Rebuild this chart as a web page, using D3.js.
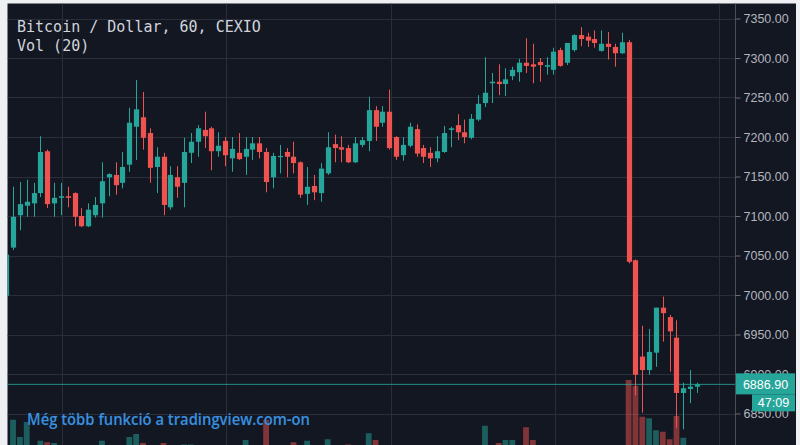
<!DOCTYPE html>
<html>
<head>
<meta charset="utf-8">
<script src="https://cdn.jsdelivr.net/npm/d3@7/dist/d3.min.js"></script>
<style>
  html, body { margin: 0; padding: 0; background: #eef0f4; }
  svg { display: block; }
</style>
</head>
<body>
<svg id="chart" width="800" height="445"></svg>
<script>
// ---- data (hourly candles, BTC/USD CEXIO) ----
const opens  = [6999,7060,7101,7113,7116,7129,7182,7116,7123,7125,7129,7100,7087,7101,7116,7149,7152,7142,7165,7213,
                7225,7205,7162,7175,7111,7149,7142,7180,7194,7209,7211,7182,7195,7173,7180,7175,7184,7192,7181,7149,
                7175,7181,7175,7168,7128,7138,7129,7154,7191,7187,7186,7168,7190,7195,7234,7218,7232,7200,7177,7189,
                7210,7186,7180,7173,7181,7209,7215,7206,7199,7222,7243,7268,7270,7267,7277,7282,7294,7292,7295,7289,
                7285,7310,7294,7310,7329,7327,7324,7309,7318,7314,7306,7320,7044,6922,6905,6927,6984,6972,6946,6876,
                6881,6884];
const highs  = [7055,7137,7143,7146,7142,7201,7184,7142,7142,7137,7130,7110,7116,7124,7168,7154,7168,7181,7237,7272,
                7257,7211,7187,7180,7163,7163,7199,7205,7215,7232,7213,7206,7200,7200,7205,7200,7200,7200,7186,7180,
                7190,7186,7194,7169,7162,7152,7167,7206,7203,7201,7190,7200,7200,7251,7239,7239,7260,7201,7200,7218,
                7216,7190,7187,7201,7214,7213,7229,7222,7229,7253,7301,7281,7292,7287,7289,7299,7325,7318,7300,7301,
                7313,7313,7319,7330,7339,7332,7335,7335,7333,7318,7332,7323,7045,6961,6957,6984,6998,6975,6968,6889,
                6905,6889];
const lows   = [6995,7057,7082,7099,7099,7124,7110,7099,7101,7111,7087,7086,7086,7098,7098,7125,7127,7135,7156,7171,
                7184,7142,7129,7101,7108,7123,7111,7167,7175,7186,7158,7175,7163,7156,7171,7152,7171,7173,7130,7135,
                7154,7149,7154,7123,7114,7120,7118,7152,7168,7168,7167,7167,7187,7182,7195,7213,7184,7171,7170,7187,
                7175,7167,7162,7168,7180,7187,7196,7192,7197,7220,7238,7243,7253,7252,7272,7270,7281,7268,7270,7279,
                7279,7289,7291,7308,7315,7314,7313,7308,7298,7289,7305,7040,6873,6851,6899,6909,6941,6903,6832,6830,
                6863,6876];
const closes = [7051,7099,7115,7118,7129,7181,7115,7123,7125,7123,7099,7087,7108,7114,7144,7153,7139,7162,7218,7235,
                7199,7161,7175,7114,7152,7137,7181,7194,7211,7201,7182,7189,7177,7185,7172,7185,7192,7181,7143,7176,
                7176,7175,7167,7127,7137,7130,7160,7187,7186,7184,7168,7192,7196,7234,7213,7232,7186,7175,7190,7213,
                7179,7175,7173,7182,7205,7211,7206,7200,7223,7242,7256,7270,7267,7273,7285,7294,7290,7289,7291,7291,
                7308,7290,7319,7329,7324,7322,7319,7318,7314,7306,7320,7042,6899,6905,6928,6984,6977,6954,6876,6882,
                6884,6886.9];
const volumes = [10,47,24,44,10,19,17,16,9,8,12,8,9,8,19,7,10,12,24,28,
                 16,12,10,16,12,9,14,14,12,10,12,8,9,8,7,20,8,7,47,12,
                 8,9,17,13,19,9,12,21,9,8,14,10,7,29,20,10,13,11,8,10,
                 12,8,7,9,12,7,10,8,11,12,39,13,16,20,20,12,37,20,12,9,
                 13,10,12,13,10,8,9,10,9,8,12,100,92,51,49,33,31,21,52,23,
                 12,10];
const priceTicks = [6850,6900,6950,7000,7050,7100,7150,7200,7250,7300,7350];
const dayBoundaries = [8.2, 32.2, 56.2, 80.2, 104.2];   // candle-index positions of session separators
const lastPrice = 6886.90;
const countdown = "47:09";
const titleText = "Bitcoin / Dollar, 60, CEXIO";
const volText = "Vol (20)";
const promoText = "Még több funkció a tradingview.com-on";

// ---- layout ----
const W = 800, H = 445;
const plot = { left: 7.5, top: 3.5, right: 735, bottom: 445 };
const UP = "#26a69a", DOWN = "#ef5350";

const candles = opens.map((o, i) => ({ i, o, h: highs[i], l: lows[i], c: closes[i], v: volumes[i] }));

const svg = d3.select("#chart");

const x = d3.scaleLinear().domain([0, candles.length - 1]).range([6.2, 697]);
const y = d3.scaleLinear().domain([6850, 7350]).range([413.5, 18.5]);
const yv = d3.scaleLinear().domain([0, 100]).range([455, 380]);

// frame background
svg.append("rect").attr("x", 0).attr("y", 0).attr("width", W).attr("height", H).attr("fill", "#eef0f4");
svg.append("rect").attr("x", plot.left).attr("y", plot.top).attr("width", 796 - plot.left).attr("height", H - plot.top)
   .attr("fill", "#131722");

const clip = svg.append("defs").append("clipPath").attr("id", "pclip");
clip.append("rect").attr("x", plot.left).attr("y", plot.top).attr("width", plot.right - plot.left).attr("height", H - plot.top);

const g = svg.append("g").attr("clip-path", "url(#pclip)");

// grid
g.selectAll("line.hg").data(priceTicks).join("line")
  .attr("x1", plot.left).attr("x2", plot.right)
  .attr("y1", d => Math.round(y(d)) + 0.5).attr("y2", d => Math.round(y(d)) + 0.5)
  .attr("stroke", "#2a2e39").attr("stroke-width", 1);
g.selectAll("line.vg").data(dayBoundaries).join("line")
  .attr("x1", d => Math.round(x(d)) + 0.5).attr("x2", d => Math.round(x(d)) + 0.5)
  .attr("y1", plot.top).attr("y2", H)
  .attr("stroke", "#2a2e39").attr("stroke-width", 1);

// volume
const bw = 5.2;
g.selectAll("rect.vol").data(candles).join("rect")
  .attr("x", d => x(d.i) - bw / 2 - 0.3)
  .attr("width", bw + 0.6)
  .attr("y", d => yv(d.v))
  .attr("height", d => yv(0) - yv(d.v))
  .attr("fill", d => d.c >= d.o ? UP : DOWN)
  .attr("fill-opacity", 0.5);

// last price line
g.append("line")
  .attr("x1", plot.left).attr("x2", plot.right)
  .attr("y1", y(lastPrice)).attr("y2", y(lastPrice))
  .attr("stroke", UP).attr("stroke-width", 1).attr("opacity", 0.85);

// wicks
g.selectAll("line.wick").data(candles).join("line")
  .attr("x1", d => Math.round(x(d.i)) + 0.5).attr("x2", d => Math.round(x(d.i)) + 0.5)
  .attr("y1", d => y(d.h)).attr("y2", d => y(d.l))
  .attr("stroke", d => d.c >= d.o ? UP : DOWN).attr("stroke-width", 1);

// bodies
g.selectAll("rect.body").data(candles).join("rect")
  .attr("x", d => Math.round(x(d.i)) + 0.5 - bw / 2)
  .attr("width", bw)
  .attr("y", d => y(Math.max(d.o, d.c)))
  .attr("height", d => Math.max(1.2, Math.abs(y(d.o) - y(d.c))))
  .attr("fill", d => d.c >= d.o ? UP : DOWN);

// right price axis
const axis = d3.axisRight(y).tickValues(priceTicks).tickFormat(d3.format(".2f")).tickSize(5).tickPadding(3);
const ag = svg.append("g").attr("transform", `translate(${plot.right + 0.5},0)`).call(axis);
ag.select(".domain").attr("stroke", "#4a4e59").attr("d", `M0,${plot.top}V${H}`);
ag.selectAll(".tick line").attr("stroke", "#6a6d78");
ag.selectAll(".tick text").attr("fill", "#b2b5be").attr("font-family", "Liberation Sans, Arial, sans-serif")
  .attr("font-size", 12.5);

// last-price label + countdown
const ly = y(lastPrice);
svg.append("rect").attr("x", plot.right + 1).attr("y", ly - 11).attr("width", 795 - plot.right - 1).attr("height", 21)
   .attr("fill", UP);
svg.append("text").attr("x", 765.5).attr("y", ly + 4.5).attr("text-anchor", "middle")
   .attr("fill", "#ffffff").attr("font-family", "Liberation Sans, Arial, sans-serif").attr("font-size", 12.5)
   .text(lastPrice.toFixed(2));
svg.append("rect").attr("x", 752).attr("y", ly + 10).attr("width", 43).attr("height", 17).attr("fill", UP);
svg.append("text").attr("x", 773.5).attr("y", ly + 23).attr("text-anchor", "middle")
   .attr("fill", "#ffffff").attr("font-family", "Liberation Sans, Arial, sans-serif").attr("font-size", 12.5)
   .text(countdown);

// right frame strip
svg.append("rect").attr("x", 796).attr("y", 0).attr("width", 4).attr("height", H).attr("fill", "#eef0f4");

// titles
svg.append("text").attr("x", 17).attr("y", 32).attr("fill", "#d1d4dc")
   .attr("font-family", "DejaVu Sans Mono, monospace").attr("font-size", 15).text(titleText);
svg.append("text").attr("x", 17).attr("y", 51).attr("fill", "#d1d4dc")
   .attr("font-family", "DejaVu Sans Mono, monospace").attr("font-size", 15).text(volText);

// promo link
svg.append("text").attr("x", 27).attr("y", 425).attr("fill", "#3b8fdc")
   .attr("stroke", "#0f2a4a").attr("stroke-width", 0.6).attr("paint-order", "stroke")
   .attr("font-family", "Open Sans, sans-serif").attr("font-size", 15.5).attr("font-weight", 600)
   .attr("textLength", 283).attr("lengthAdjust", "spacingAndGlyphs")
   .text(promoText);
</script>
</body>
</html>
